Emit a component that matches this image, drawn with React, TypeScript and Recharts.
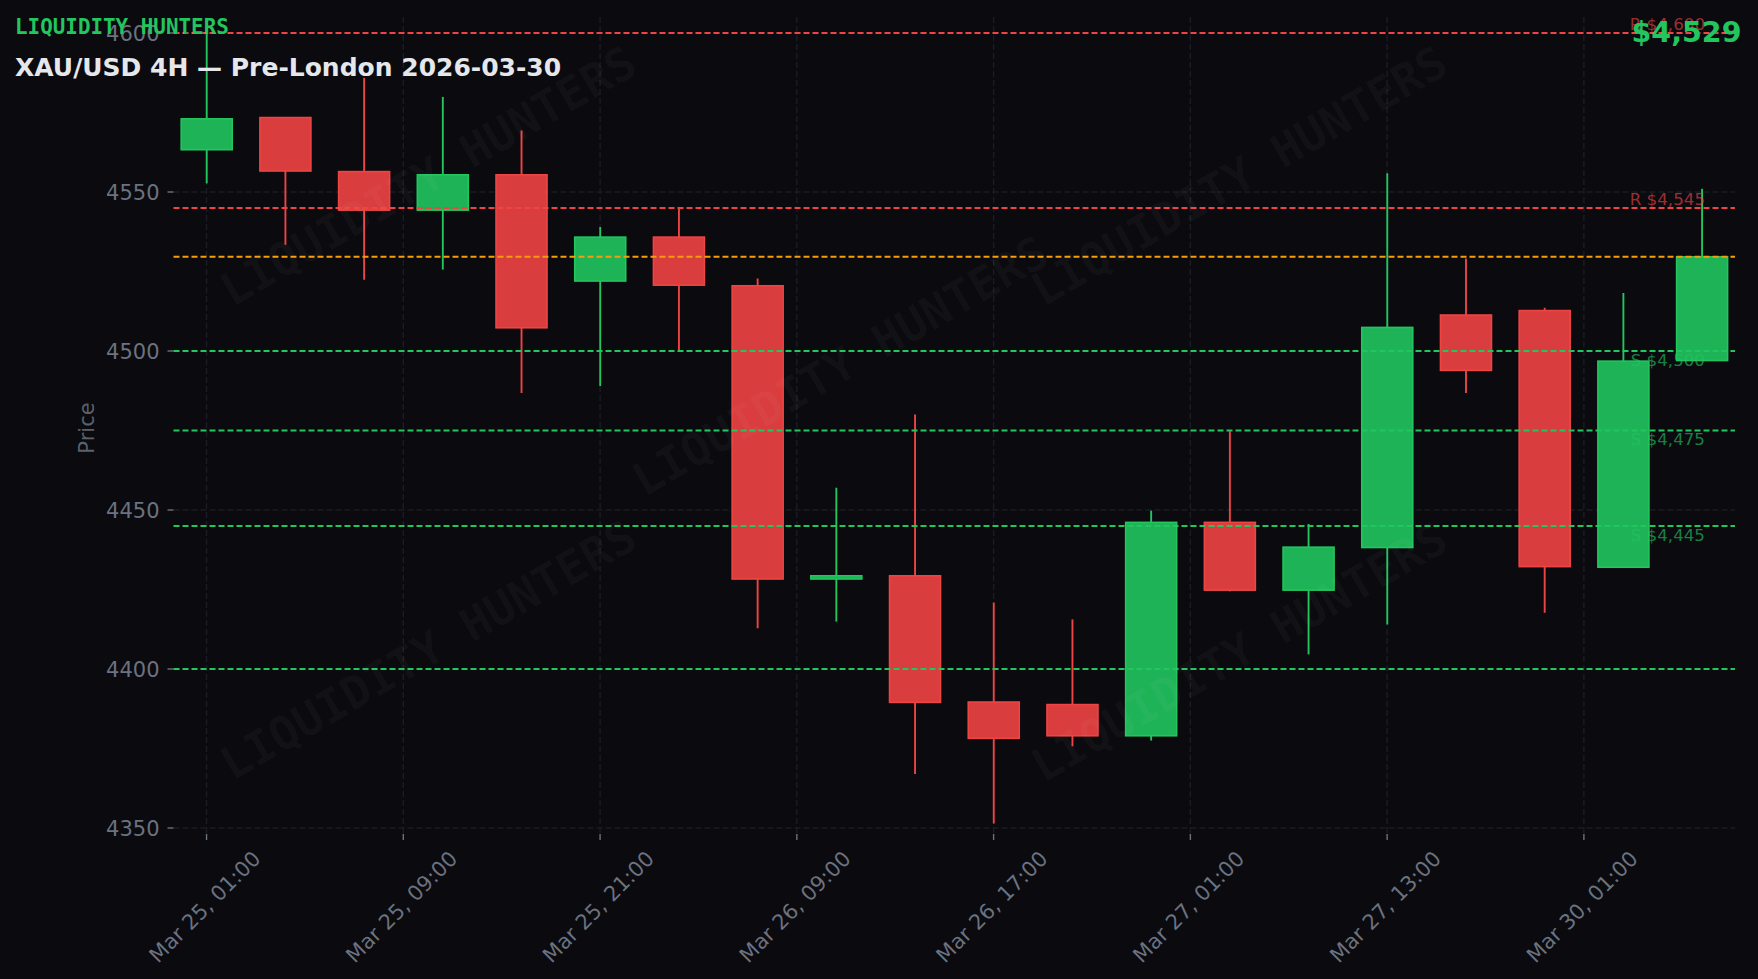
import { Bar, CartesianGrid, ComposedChart, ReferenceLine, XAxis, YAxis } from "recharts";

const opens = [4563.3, 4573.6, 4556.6, 4544.3, 4555.6, 4522, 4536, 4520.7, 4428.3, 4429.5, 4389.8, 4389, 4379, 4446.3, 4424.8, 4438.2, 4511.5, 4512.9, 4432, 4497];
const closes = [4573.2, 4556.6, 4544.3, 4555.6, 4507.3, 4536, 4520.7, 4428.3, 4429.5, 4389.5, 4378.2, 4379, 4446.3, 4424.8, 4438.5, 4507.6, 4493.9, 4432.2, 4497, 4529.8];
const highs = [4600.5, 4573.6, 4585.9, 4579.9, 4569.3, 4539, 4545.3, 4522.8, 4457, 4480, 4420.9, 4415.6, 4449.8, 4474.8, 4445.6, 4555.9, 4529.1, 4513.6, 4518.2, 4551];
const lows = [4552.7, 4533.4, 4522.4, 4525.6, 4486.8, 4489, 4500.2, 4412.8, 4414.9, 4367, 4351.4, 4375.7, 4377.5, 4424.4, 4404.6, 4414, 4486.8, 4417.7, 4432, 4497];

const xTicks = [0, 2.5, 5, 7.5, 10, 12.5, 15, 17.5];
const xTickLabels = ["Mar 25, 01:00", "Mar 25, 09:00", "Mar 25, 21:00", "Mar 26, 09:00", "Mar 26, 17:00", "Mar 27, 01:00", "Mar 27, 13:00", "Mar 30, 01:00"];
const yTicks = [4350, 4400, 4450, 4500, 4550, 4600];

const resistance = [4600, 4545];
const support = [4500, 4475, 4445];
const extraSupport = [4400];
const currentPrice = 4529.6;

const data = opens.map((open, i) => ({ i, open, close: closes[i], high: highs[i], low: lows[i] }));

const font = "'DejaVu Sans', sans-serif";
const mono = "'DejaVu Sans Mono', monospace";
const GREEN = "#22c55e";
const RED = "#ef4444";
const GREY = "#6b7280";
const BG = "#0a0a0f";

const wm = [
  [428, 176],
  [840, 366],
  [1239, 176],
  [428, 650],
  [1239, 652],
];

function Candle(props: any) {
  const { x, y, width, height, payload } = props;
  const up = payload.close >= payload.open;
  const color = up ? GREEN : RED;
  const k = height / (payload.high - payload.low);
  const top = y + (payload.high - Math.max(payload.open, payload.close)) * k;
  const bot = y + (payload.high - Math.min(payload.open, payload.close)) * k;
  const cx = x + width / 2;
  return (
    <g>
      <line x1={cx} x2={cx} y1={y} y2={y + height} stroke={color} strokeWidth={1.9} />
      <rect
        x={x}
        y={top + 0.6}
        width={width}
        height={bot - top - 0.6}
        fill={up ? "#1fb358" : "#d93d3d"}
        stroke={color}
        strokeWidth={1.6}
      />
    </g>
  );
}

function XTick(props: any) {
  const { x, y, payload, index } = props;
  const cy = y + 65;
  const cx = x - 1.5;
  return (
    <text
      x={cx}
      y={cy}
      fill={GREY}
      fontSize={21}
      fontFamily={font}
      textAnchor="middle"
      dominantBaseline="central"
      transform={`rotate(-45 ${cx} ${cy})`}
    >
      {xTickLabels[xTicks.indexOf(payload.value)] ?? xTickLabels[index]}
    </text>
  );
}

function LevelLabel(props: any) {
  const { viewBox, text, color, below } = props;
  return (
    <text
      x={1705}
      y={below ? viewBox.y + 15 : viewBox.y - 2.5}
      fill={color}
      fillOpacity={0.65}
      fontSize={16.7}
      fontFamily={font}
      textAnchor="end"
    >
      {text}
    </text>
  );
}

function PriceLabel(props: any) {
  const { viewBox } = props;
  const y = viewBox.y + viewBox.height / 2 + 2.5;
  return (
    <text
      x={87}
      y={y}
      fill="#5a616d"
      fontSize={21}
      fontFamily={font}
      textAnchor="middle"
      dominantBaseline="central"
      transform={`rotate(-90 87 ${y})`}
    >
      Price
    </text>
  );
}

const fmt = (n: number) => "$" + n.toLocaleString("en-US");

export default function App() {
  return (
    <div style={{ position: "fixed", left: 0, top: 0, width: 1758, height: 979, background: BG, overflow: "hidden" }}>
      <ComposedChart
        width={1758}
        height={979}
        data={data}
        margin={{ top: 17, right: 23, left: 0, bottom: 0 }}
        barSize={51}
      >
        <CartesianGrid stroke="#1b1d25" strokeDasharray="6 3" strokeWidth={1.4} syncWithTicks />
        <XAxis
          dataKey="i"
          type="number"
          domain={[-0.42, 19.42]}
          ticks={xTicks}
          interval={0}
          height={145}
          axisLine={false}
          tickLine={{ stroke: GREY, strokeWidth: 1.4 }}
          tickSize={6}
          tick={<XTick />}
        />
        <YAxis
          type="number"
          domain={[4348.11, 4605.03]}
          ticks={yTicks}
          width={173.5}
          axisLine={false}
          tickLine={{ stroke: GREY, strokeWidth: 1.4 }}
          tickSize={6}
          tickMargin={8}
          tick={{ fill: GREY, fontSize: 21, fontFamily: font, dy: 1 }}
          label={<PriceLabel />}
        />
        <Bar dataKey={(d: any) => [d.low, d.high]} shape={<Candle />} isAnimationActive={false} />
        {resistance.map((v) => (
          <ReferenceLine
            key={v}
            y={v}
            stroke={RED}
            strokeWidth={2}
            strokeDasharray="6 3"
            label={<LevelLabel text={`R ${fmt(v)}`} color={RED} />}
          />
        ))}
        <ReferenceLine y={currentPrice} stroke="#f59e0b" strokeWidth={2} strokeDasharray="6 3" />
        {support.map((v) => (
          <ReferenceLine
            key={v}
            y={v}
            stroke={GREEN}
            strokeWidth={2}
            strokeDasharray="6 3"
            label={<LevelLabel text={`S ${fmt(v)}`} color={GREEN} below />}
          />
        ))}
        {extraSupport.map((v) => (
          <ReferenceLine key={v} y={v} stroke={GREEN} strokeWidth={2} strokeDasharray="6 3" />
        ))}
      </ComposedChart>
      <svg width={1758} height={979} style={{ position: "absolute", left: 0, top: 0, pointerEvents: "none" }}>
        {wm.map(([x, y], i) => (
          <text
            key={i}
            x={x}
            y={y}
            fill="#ffffff"
            fillOpacity={0.035}
            fontSize={46}
            fontWeight={700}
            fontFamily={mono}
            textAnchor="middle"
            dominantBaseline="central"
            transform={`rotate(-30 ${x} ${y})`}
          >
            LIQUIDITY HUNTERS
          </text>
        ))}
        <text x={15} y={34} fill={GREEN} fontSize={20.9} fontWeight={700} fontFamily={mono}>
          LIQUIDITY HUNTERS
        </text>
        <text x={15} y={76} fill="#e5e7eb" fontSize={25} fontWeight={700} fontFamily={font}>
          XAU/USD 4H — Pre-London 2026-03-30
        </text>
        <text x={1741.5} y={41.5} fill={GREEN} fontSize={28.5} fontWeight={700} fontFamily={font} textAnchor="end">
          $4,529
        </text>
      </svg>
    </div>
  );
}
